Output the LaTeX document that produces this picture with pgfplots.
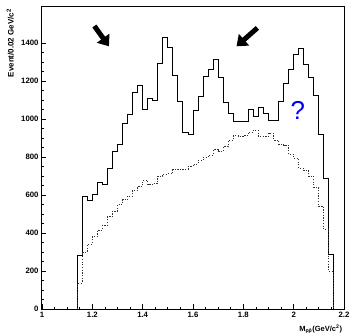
\documentclass[border=0pt]{standalone}
\usepackage{pgfplots}
\pgfplotsset{compat=1.18}
\usepackage{fontspec}
\setmainfont{Liberation Sans}
\usetikzlibrary{arrows.meta}
\begin{document}
\begin{tikzpicture}
\useasboundingbox (-42bp,-24bp) rectangle (308bp,309bp);
\begin{axis}[
  scale only axis, width=302bp, height=302bp,
  xmin=1, xmax=2.2, ymin=0, ymax=1590,
  xtick={1,1.2,1.4,1.6,1.8,2,2.2},
  ytick={0,200,400,600,800,1000,1200,1400},
  minor x tick num=3, minor y tick num=3,
  tick align=inside, xtick pos=left, ytick pos=left,
  major tick length=4.5bp, minor tick length=2.3bp,
  axis line style={line width=1bp},
  every tick/.style={black, line width=0.8bp},
  tick label style={font=\fontsize{7.8}{8}\selectfont\bfseries},
  /pgf/number format/assume math mode=true,
  /pgf/number format/1000 sep={},
  ylabel={Event/0.02 GeV/c\textsuperscript{2}},
  ylabel style={font=\fontsize{8}{9}\selectfont\bfseries, at={(axis description cs:-0.105,1.005)}, anchor=east, rotate=0},
  xlabel={M\textsubscript{p\={p}}(GeV/c\textsuperscript{2})},
  xlabel style={font=\fontsize{7.5}{8}\selectfont\bfseries, at={(axis description cs:1.005,0)}, anchor=north east, yshift=-12bp},
  clip=false,
]
\addplot[const plot mark left, black, line width=0.9bp] coordinates {
(1.14,0) (1.14,280) (1.16,595) (1.18,570) (1.20,605) (1.22,665) (1.24,655)
(1.26,738) (1.28,831) (1.30,865) (1.32,975) (1.34,1026) (1.36,1140) (1.38,1175)
(1.40,1053) (1.42,1108) (1.44,1097) (1.46,1293) (1.48,1430) (1.50,1377) (1.52,1232)
(1.54,1093) (1.56,928) (1.58,917) (1.60,1045) (1.62,1119) (1.64,1226) (1.66,1261)
(1.68,1316) (1.70,1218) (1.72,1090) (1.74,1029) (1.76,985) (1.78,985) (1.80,985)
(1.82,1049) (1.84,1012) (1.86,1063) (1.88,1030) (1.90,993) (1.92,993) (1.94,1095)
(1.96,1190) (1.98,1263) (2.00,1338) (2.02,1374) (2.04,1286) (2.06,1219) (2.08,1123)
(2.10,917) (2.12,689) (2.14,286) (2.16,0)
};
\addplot[const plot mark left, black!80, line width=0.9bp, dash pattern=on 1.2bp off 1.5bp] coordinates {
(1.14,0) (1.14,137) (1.16,300) (1.18,340) (1.20,380) (1.22,415) (1.24,440)
(1.26,485) (1.28,515) (1.30,550) (1.32,575) (1.34,595) (1.36,625) (1.38,645)
(1.40,677) (1.42,654) (1.44,660) (1.46,698) (1.48,711) (1.50,712) (1.52,733)
(1.54,737) (1.56,737) (1.58,751) (1.60,763) (1.62,783) (1.64,798) (1.66,810)
(1.68,838) (1.70,830) (1.72,855) (1.74,887) (1.76,912) (1.78,908) (1.80,912)
(1.82,930) (1.84,940) (1.86,908) (1.88,908) (1.90,925) (1.92,890) (1.94,868)
(1.96,862) (1.98,815) (2.00,795) (2.02,740) (2.04,728) (2.06,700) (2.08,640)
(2.10,540) (2.12,417) (2.14,198) (2.16,0)
};
\draw[line width=5bp, -{Triangle[length=10bp, width=15bp]}] (axis cs:1.208,1490) -- (axis cs:1.266,1383);
\draw[line width=5bp, -{Triangle[length=10bp, width=15bp]}] (axis cs:1.856,1480) -- (axis cs:1.773,1383);
\node[text=blue, font=\fontsize{26}{28}\selectfont] at (axis cs:2.017,1045) {?};
\end{axis}
\end{tikzpicture}
\end{document}
